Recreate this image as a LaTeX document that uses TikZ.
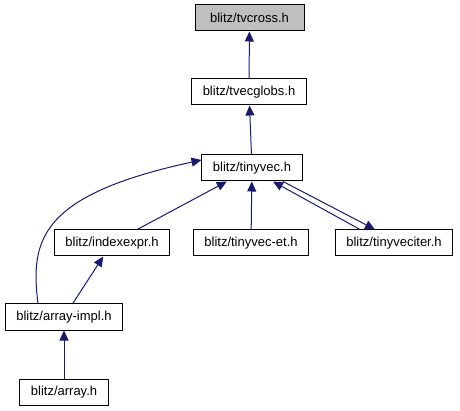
\documentclass[tikz,border=0pt]{standalone}
\usepackage{fontspec}
\setmainfont{Liberation Sans}
\usetikzlibrary{arrows.meta}
\definecolor{edgeblue}{RGB}{25,25,112}

\begin{document}
\begin{tikzpicture}[x=1pt,y=-1pt,
    file/.style={draw=black,line width=1pt,fill=white,minimum height=26pt,inner xsep=11pt,inner ysep=0pt,font=\fontsize{13}{15}\selectfont},
    edge/.style={draw=edgeblue,line width=1pt,-{Triangle[length=10pt,width=9pt]}}]
        \useasboundingbox (0,0) rectangle (460,411);
        \node[file,fill={rgb,255:red,191;green,191;blue,191},minimum width=109pt] (tvcross) at (249.5,18) {blitz/tvcross.h};
        \node[file] (tvecglobs) at (249,92) {blitz/tvecglobs.h};
        \node[file] (tinyvec) at (252,168) {blitz/tinyvec.h};
        \node[file] (indexexpr) at (112,243) {blitz/indexexpr.h};
        \node[file] (tinyvecet) at (251,243) {blitz/tinyvec-et.h};
        \node[file] (tinyveciter) at (394,243) {blitz/tinyveciter.h};
        \node[file] (arrayimpl) at (64,317) {blitz/array-impl.h};
        \node[file] (array) at (64,392) {blitz/array.h};
        \draw[edge] (tvecglobs) -- (tvcross);
        \draw[edge] (tinyvec) -- (tvecglobs);
        \draw[edge] (indexexpr) -- (tinyvec);
        \draw[edge] (tinyvecet) -- (tinyvec);
        \draw[edge] ([xshift=-34pt]tinyveciter.north) -- ([xshift=21pt]tinyvec.south);
        \draw[edge] ([xshift=31pt]tinyvec.south) -- ([xshift=-19pt]tinyveciter.north);
        \draw[edge] ([xshift=-26pt]arrayimpl.north) .. controls (30,240) and (40,195) .. ([yshift=8pt]tinyvec.west);
        \draw[edge] (arrayimpl) -- (indexexpr);
        \draw[edge] (array) -- (arrayimpl);
      \end{tikzpicture}
\end{document}
